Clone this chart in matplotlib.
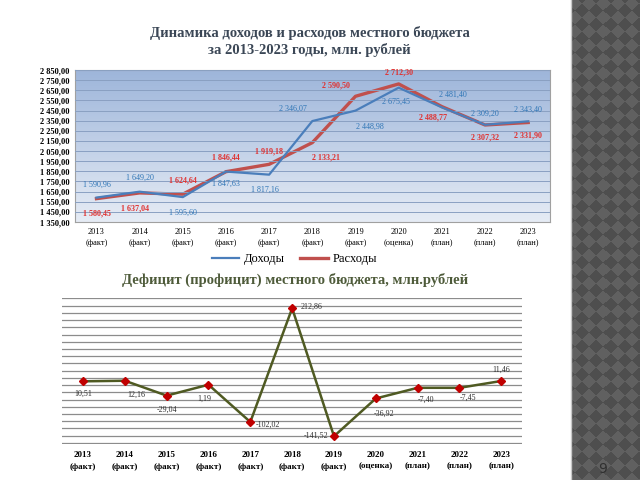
import matplotlib
matplotlib.use("Agg")
import matplotlib.pyplot as plt
import numpy as np

plt.rcParams['font.family'] = ['Liberation Serif', 'DejaVu Serif']

years = ['2013', '2014', '2015', '2016', '2017', '2018', '2019', '2020', '2021', '2022', '2023']
status = ['(факт)', '(факт)', '(факт)', '(факт)', '(факт)', '(факт)', '(факт)',
          '(оценка)', '(план)', '(план)', '(план)']
income = [1590.96, 1649.20, 1595.60, 1847.63, 1817.16, 2346.07, 2448.98, 2675.45, 2481.40, 2309.20, 2343.40]
expense = [1580.45, 1637.04, 1624.64, 1846.44, 1919.18, 2133.21, 2590.50, 2712.30, 2488.77, 2307.32, 2331.90]
deficit = [10.51, 12.16, -29.04, 1.19, -102.02, 212.86, -141.52, -36.92, -7.40, -7.45, 11.46]


def fmt(v):
    s = f"{abs(v):,.2f}".replace(",", " ").replace(".", ",")
    return ("-" if v < 0 else "") + s


x = np.arange(len(years))
xlabels = [f"{y}\n{s}" for y, s in zip(years, status)]

fig = plt.figure(figsize=(6.4, 4.8), dpi=100)

# --- правая декоративная полоса
ax_strip = fig.add_axes([0.892, 0, 0.108, 1])
yy, xx = np.mgrid[0:480, 0:69]
k = 14
pat = (((xx + yy) // k) % 2) ^ (((xx - yy + 1000) // k) % 2)
ax_strip.imshow(pat, cmap=matplotlib.colors.ListedColormap(['#4e4e4e', '#606060']),
                aspect='auto', interpolation='nearest')
ax_strip.axis('off')
fig.add_artist(plt.Line2D([0.892, 0.892], [0, 1], color='#c8c8c8', linewidth=1))
fig.text(0.942, 0.022, "9", fontsize=10, color='#303030', ha='center', va='center',
         family=['DejaVu Sans'])

# --- верхний график
ax1 = fig.add_axes([0.117, 0.5375, 0.742, 0.3167])
ax1.set_xlim(-0.5, 10.5)
ax1.set_ylim(1350, 2850)
grad = np.linspace(0, 1, 256).reshape(-1, 1)
ax1.imshow(grad, extent=[-0.5, 10.5, 1350, 2850], aspect='auto', origin='upper',
           cmap=matplotlib.colors.LinearSegmentedColormap.from_list('g', ['#9db5da', '#e6ecf5']),
           zorder=0)
ax1.set_yticks(np.arange(1350, 2851, 100))
ax1.set_yticklabels([fmt(v) for v in np.arange(1350, 2851, 100)], fontsize=6, fontweight='bold')
ax1.yaxis.grid(True, color='#8aa0c2', linewidth=0.7)
ax1.set_axisbelow(False)
ax1.set_xticks(x)
ax1.set_xticklabels(xlabels, fontsize=6, linespacing=1.6)
ax1.tick_params(length=0, pad=4)
for sp in ax1.spines.values():
    sp.set_color('#a0a0a0')

ax1.plot(x, income, color='#4a7ebb', linewidth=1.6, label='Доходы', zorder=3)
ax1.plot(x, expense, color='#c0504d', linewidth=2.4, label='Расходы', zorder=2)

inc_off = [(0, 9), (0, 10), (0, -11), (0, -9), (-3, -11), (-14, 9), (10, -12), (-2, -10), (8, 9), (0, 8), (0, 8)]
exp_off = [(0, -11), (-3, -11), (0, 10), (0, 10), (0, 9), (10, -11), (-14, 8), (0, 8), (-6, -8), (0, -9), (0, -9)]
for i in range(len(years)):
    ax1.annotate(fmt(income[i]), (x[i], income[i]), xytext=inc_off[i], textcoords='offset points',
                 ha='center', va='center', fontsize=5.8, color='#2e75b6', zorder=5)
    ax1.annotate(fmt(expense[i]), (x[i], expense[i]), xytext=exp_off[i], textcoords='offset points',
                 ha='center', va='center', fontsize=5.8, color='#e0302f', fontweight='bold', zorder=5)

fig.legend(handles=ax1.get_lines(), loc='center', bbox_to_anchor=(0.46, 0.46), ncol=2,
           frameon=False, fontsize=9, handlelength=2.2, columnspacing=1.2, handletextpad=0.4)

fig.text(0.484, 0.913, "Динамика доходов и расходов местного бюджета\nза 2013-2023 годы, млн. рублей",
         ha='center', va='center', fontsize=10.5, fontweight='bold', color='#3b4756', linespacing=1.25)
fig.text(0.461, 0.417, "Дефицит (профицит) местного бюджета, млн.рублей",
         ha='center', va='center', fontsize=10.5, fontweight='bold', color='#4e5b3a')

# --- нижний график
ax2 = fig.add_axes([0.097, 0.075, 0.719, 0.304])
ax2.set_xlim(-0.5, 10.5)
ax2.set_ylim(-163, 241)
ax2.set_yticks(np.arange(-160, 241, 20))
ax2.yaxis.grid(True, color='#8c8c8c', linewidth=0.9)
ax2.tick_params(axis='y', left=False, labelleft=False)
ax2.set_xticks(x)
ax2.set_xticklabels(xlabels, fontsize=6.5, fontweight='bold', linespacing=1.6)
ax2.tick_params(axis='x', length=0, pad=5)
for sp in ax2.spines.values():
    sp.set_visible(False)

ax2.plot(x, deficit, color='#4f5a22', linewidth=1.8, marker='D', markersize=4,
         markerfacecolor='#c00000', markeredgecolor='#c00000', zorder=3)
def_off = [(0, -9), (8, -10), (0, -10), (-3, -10), (13, -2), (14, 1), (-13, 0), (6, -11), (6, -9), (6, -7), (0, 8)]
for i in range(len(years)):
    ax2.annotate(fmt(deficit[i]), (x[i], deficit[i]), xytext=def_off[i], textcoords='offset points',
                 ha='center', va='center', fontsize=5.8, color='#303030', zorder=5)

fig.savefig('out.png', dpi=100)
